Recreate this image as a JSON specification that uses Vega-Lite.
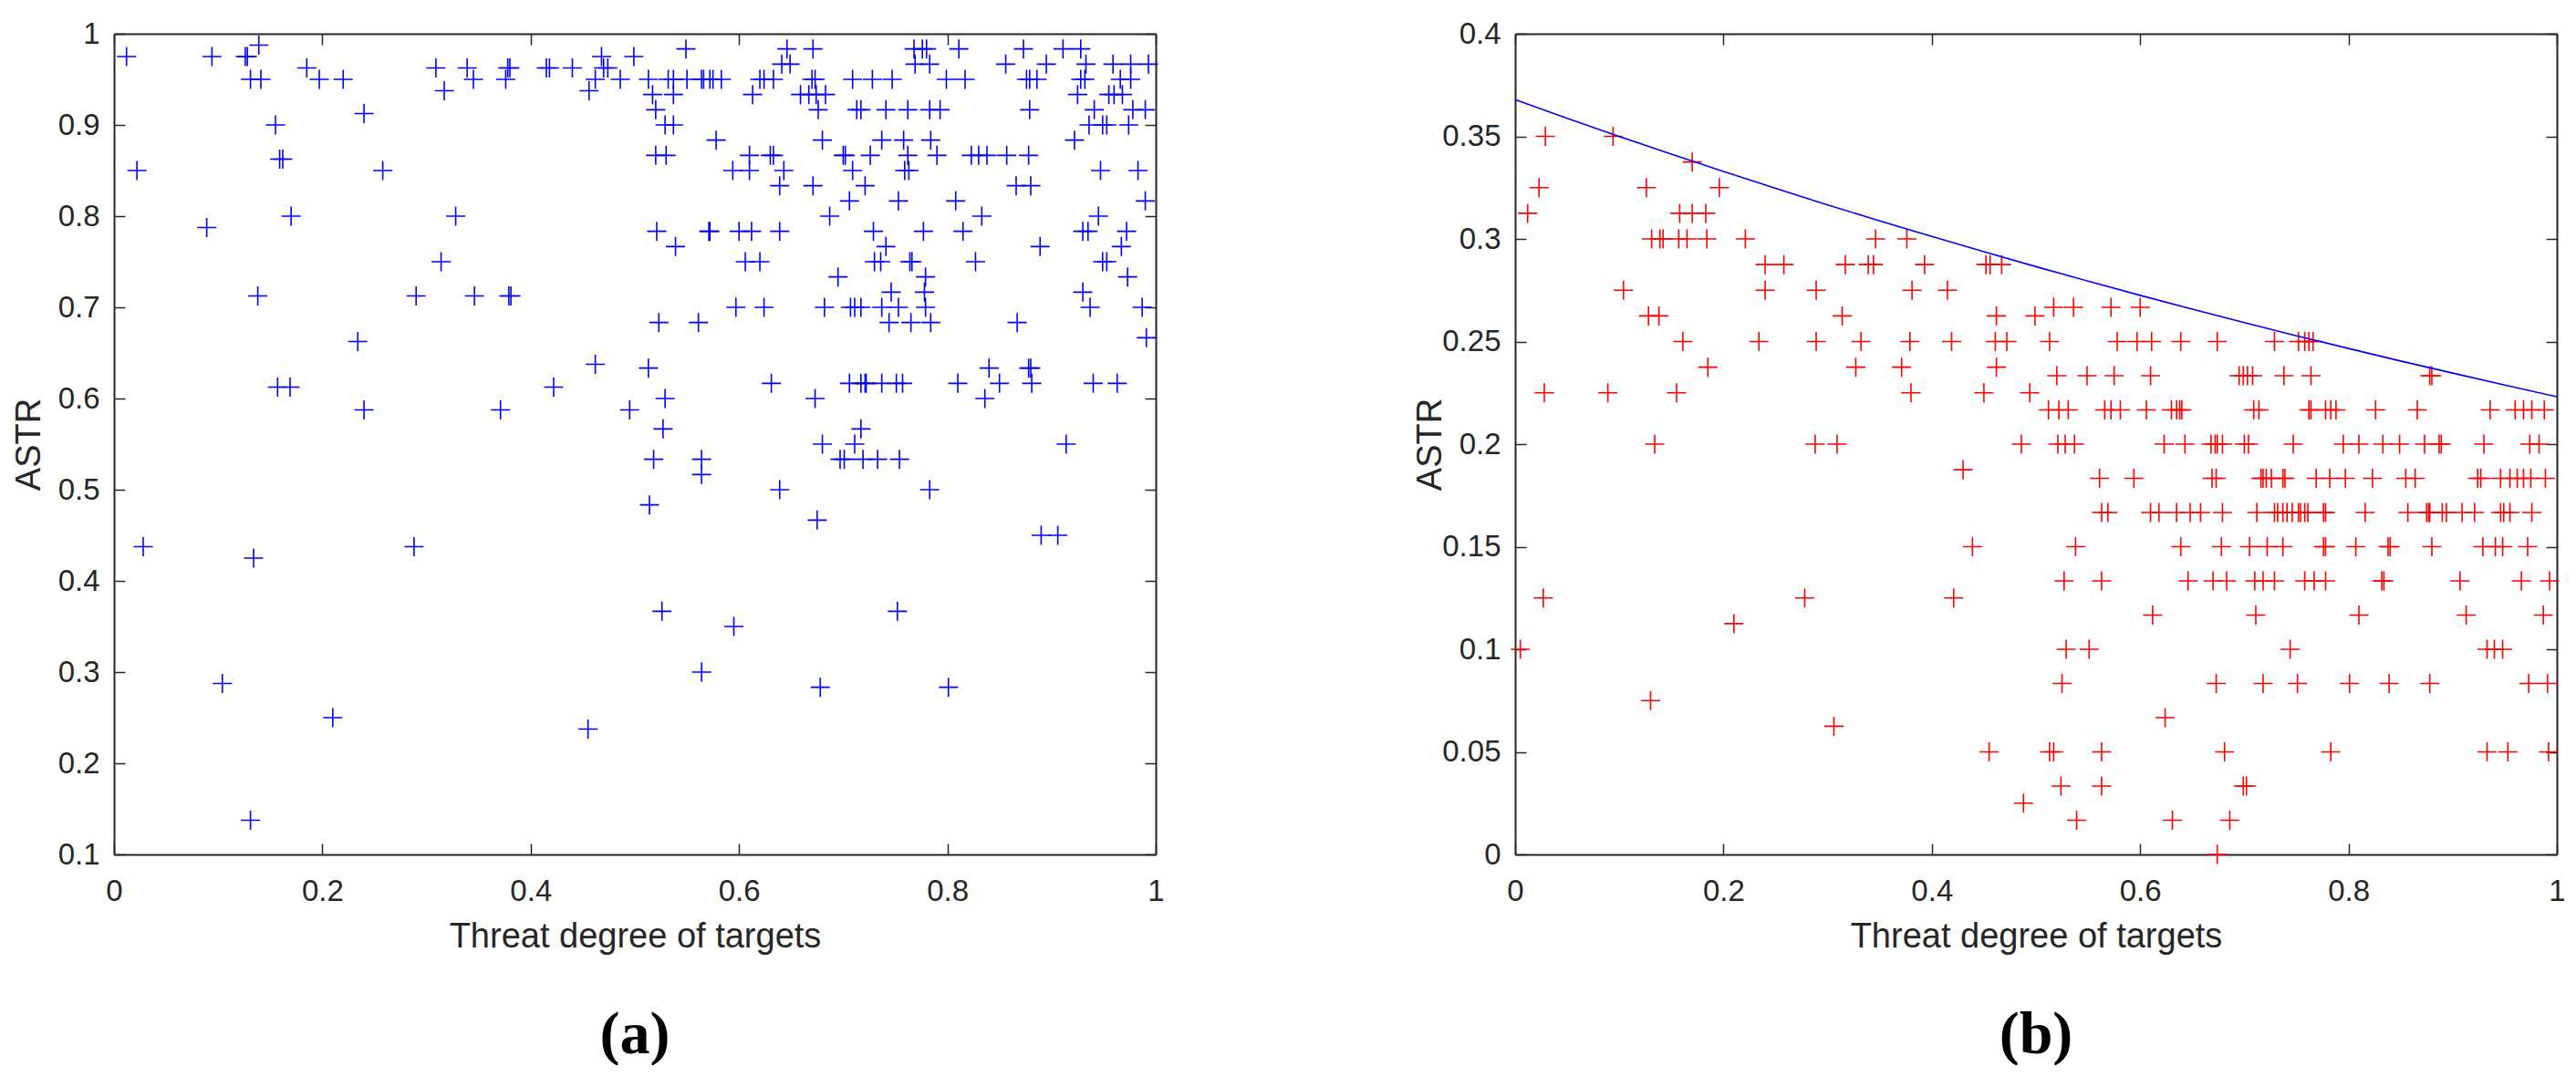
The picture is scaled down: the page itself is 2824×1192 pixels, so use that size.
{
"$schema": "https://vega.github.io/schema/vega-lite/v6.json",
"background": "white",
"padding": {"left": 13, "top": 21, "right": 0, "bottom": 0},
"spacing": 272,
"config": {
  "view": {"stroke": null},
  "axis": {"domainColor": "#262626", "domainWidth": 2, "tickColor": "#262626", "tickWidth": 1.5, "tickSize": -12,
    "labelColor": "#262626", "titleColor": "#262626", "labelFont": "Liberation Sans", "titleFont": "Liberation Sans",
    "labelFontSize": 33, "titleFontSize": 38, "titleFontWeight": "normal", "grid": false,
    "labelFlush": false, "labelOverlap": false, "format": "~g"},
  "axisX": {"labelPadding": 36},
  "axisY": {"labelPadding": 28},
  "title": {"font": "Liberation Serif", "fontSize": 66, "fontWeight": "bold", "color": "black", "orient": "bottom", "anchor": "middle", "offset": 57}
},
"datasets": {
"a": [
{"x":0.012,"y":0.975},{"x":0.094,"y":0.975},{"x":0.126,"y":0.975},{"x":0.128,"y":0.975},{"x":0.468,"y":0.975},{"x":0.499,"y":0.975},
{"x":0.139,"y":0.9875},
{"x":0.185,"y":0.9625},{"x":0.309,"y":0.9625},{"x":0.339,"y":0.9625},{"x":0.378,"y":0.9625},{"x":0.38,"y":0.9625},{"x":0.415,"y":0.9625},{"x":0.418,"y":0.9625},{"x":0.44,"y":0.9625},{"x":0.47,"y":0.9625},{"x":0.474,"y":0.9625},
{"x":0.131,"y":0.95},{"x":0.141,"y":0.95},{"x":0.197,"y":0.95},{"x":0.22,"y":0.95},{"x":0.345,"y":0.95},{"x":0.376,"y":0.95},{"x":0.462,"y":0.95},{"x":0.486,"y":0.95},{"x":0.513,"y":0.95},{"x":0.532,"y":0.95},{"x":0.537,"y":0.95},{"x":0.55,"y":0.95},{"x":0.564,"y":0.95},{"x":0.566,"y":0.95},{"x":0.572,"y":0.95},{"x":0.575,"y":0.95},{"x":0.583,"y":0.95},{"x":0.62,"y":0.95},{"x":0.624,"y":0.95},{"x":0.633,"y":0.95},{"x":0.67,"y":0.95},{"x":0.673,"y":0.95},{"x":0.709,"y":0.95},{"x":0.728,"y":0.95},{"x":0.747,"y":0.95},{"x":0.799,"y":0.95},{"x":0.817,"y":0.95},{"x":0.876,"y":0.95},{"x":0.879,"y":0.95},{"x":0.886,"y":0.95},{"x":0.928,"y":0.95},{"x":0.932,"y":0.95},{"x":0.966,"y":0.95},{"x":0.976,"y":0.95},
{"x":0.317,"y":0.9375},{"x":0.456,"y":0.9375},
{"x":0.24,"y":0.9125},
{"x":0.155,"y":0.9},{"x":0.529,"y":0.9},{"x":0.537,"y":0.9},{"x":0.936,"y":0.9},{"x":0.949,"y":0.9},{"x":0.953,"y":0.9},{"x":0.974,"y":0.9},
{"x":0.159,"y":0.8625},{"x":0.162,"y":0.8625},
{"x":0.022,"y":0.85},{"x":0.258,"y":0.85},{"x":0.594,"y":0.85},{"x":0.61,"y":0.85},{"x":0.643,"y":0.85},{"x":0.709,"y":0.85},{"x":0.759,"y":0.85},{"x":0.763,"y":0.85},{"x":0.947,"y":0.85},{"x":0.983,"y":0.85},
{"x":0.17,"y":0.8},{"x":0.328,"y":0.8},{"x":0.687,"y":0.8},{"x":0.833,"y":0.8},{"x":0.945,"y":0.8},
{"x":0.089,"y":0.7875},
{"x":0.314,"y":0.75},{"x":0.606,"y":0.75},{"x":0.62,"y":0.75},{"x":0.73,"y":0.75},{"x":0.736,"y":0.75},{"x":0.764,"y":0.75},{"x":0.766,"y":0.75},{"x":0.827,"y":0.75},{"x":0.949,"y":0.75},{"x":0.953,"y":0.75},
{"x":0.138,"y":0.7125},{"x":0.29,"y":0.7125},{"x":0.346,"y":0.7125},{"x":0.379,"y":0.7125},{"x":0.381,"y":0.7125},
{"x":0.234,"y":0.6625},
{"x":0.462,"y":0.6375},
{"x":0.157,"y":0.6125},{"x":0.169,"y":0.6125},{"x":0.422,"y":0.6125},
{"x":0.24,"y":0.5875},{"x":0.371,"y":0.5875},{"x":0.495,"y":0.5875},
{"x":0.028,"y":0.4375},{"x":0.288,"y":0.4375},
{"x":0.134,"y":0.425},
{"x":0.104,"y":0.2875},
{"x":0.21,"y":0.25},
{"x":0.455,"y":0.2375},
{"x":0.131,"y":0.1375},
{"x":0.549,"y":0.98333},{"x":0.646,"y":0.98333},{"x":0.671,"y":0.98333},{"x":0.768,"y":0.98333},{"x":0.776,"y":0.98333},{"x":0.78,"y":0.98333},{"x":0.811,"y":0.98333},{"x":0.873,"y":0.98333},{"x":0.911,"y":0.98333},{"x":0.928,"y":0.98333},
{"x":0.641,"y":0.96667},{"x":0.649,"y":0.96667},{"x":0.769,"y":0.96667},{"x":0.783,"y":0.96667},{"x":0.856,"y":0.96667},{"x":0.895,"y":0.96667},{"x":0.933,"y":0.96667},{"x":0.959,"y":0.96667},{"x":0.976,"y":0.96667},{"x":0.993,"y":0.96667},
{"x":0.517,"y":0.93333},{"x":0.537,"y":0.93333},{"x":0.613,"y":0.93333},{"x":0.659,"y":0.93333},{"x":0.667,"y":0.93333},{"x":0.674,"y":0.93333},{"x":0.683,"y":0.93333},{"x":0.925,"y":0.93333},{"x":0.955,"y":0.93333},{"x":0.96,"y":0.93333},{"x":0.968,"y":0.93333},
{"x":0.52,"y":0.91667},{"x":0.676,"y":0.91667},{"x":0.713,"y":0.91667},{"x":0.717,"y":0.91667},{"x":0.741,"y":0.91667},{"x":0.762,"y":0.91667},{"x":0.783,"y":0.91667},{"x":0.793,"y":0.91667},{"x":0.879,"y":0.91667},{"x":0.941,"y":0.91667},{"x":0.978,"y":0.91667},{"x":0.99,"y":0.91667},
{"x":0.578,"y":0.88333},{"x":0.68,"y":0.88333},{"x":0.737,"y":0.88333},{"x":0.758,"y":0.88333},{"x":0.784,"y":0.88333},{"x":0.922,"y":0.88333},
{"x":0.52,"y":0.86667},{"x":0.53,"y":0.86667},{"x":0.61,"y":0.86667},{"x":0.63,"y":0.86667},{"x":0.633,"y":0.86667},{"x":0.7,"y":0.86667},{"x":0.702,"y":0.86667},{"x":0.726,"y":0.86667},{"x":0.762,"y":0.86667},{"x":0.79,"y":0.86667},{"x":0.823,"y":0.86667},{"x":0.83,"y":0.86667},{"x":0.838,"y":0.86667},{"x":0.857,"y":0.86667},{"x":0.878,"y":0.86667},
{"x":0.639,"y":0.83333},{"x":0.671,"y":0.83333},{"x":0.721,"y":0.83333},{"x":0.866,"y":0.83333},{"x":0.88,"y":0.83333},
{"x":0.706,"y":0.81667},{"x":0.753,"y":0.81667},{"x":0.808,"y":0.81667},{"x":0.99,"y":0.81667},
{"x":0.521,"y":0.78333},{"x":0.571,"y":0.78333},{"x":0.572,"y":0.78333},{"x":0.6,"y":0.78333},{"x":0.612,"y":0.78333},{"x":0.639,"y":0.78333},{"x":0.729,"y":0.78333},{"x":0.777,"y":0.78333},{"x":0.815,"y":0.78333},{"x":0.93,"y":0.78333},{"x":0.935,"y":0.78333},{"x":0.972,"y":0.78333},
{"x":0.539,"y":0.76667},{"x":0.741,"y":0.76667},{"x":0.889,"y":0.76667},{"x":0.967,"y":0.76667},
{"x":0.695,"y":0.73333},{"x":0.779,"y":0.73333},{"x":0.973,"y":0.73333},
{"x":0.746,"y":0.71667},{"x":0.778,"y":0.71667},{"x":0.93,"y":0.71667},
{"x":0.597,"y":0.7},{"x":0.624,"y":0.7},{"x":0.682,"y":0.7},{"x":0.707,"y":0.7},{"x":0.711,"y":0.7},{"x":0.717,"y":0.7},{"x":0.737,"y":0.7},{"x":0.753,"y":0.7},{"x":0.779,"y":0.7},{"x":0.937,"y":0.7},{"x":0.987,"y":0.7},
{"x":0.523,"y":0.68333},{"x":0.561,"y":0.68333},{"x":0.744,"y":0.68333},{"x":0.765,"y":0.68333},{"x":0.784,"y":0.68333},{"x":0.867,"y":0.68333},
{"x":0.991,"y":0.66667},
{"x":0.513,"y":0.63333},{"x":0.84,"y":0.63333},{"x":0.878,"y":0.63333},{"x":0.88,"y":0.63333},
{"x":0.631,"y":0.61667},{"x":0.706,"y":0.61667},{"x":0.717,"y":0.61667},{"x":0.721,"y":0.61667},{"x":0.722,"y":0.61667},{"x":0.737,"y":0.61667},{"x":0.751,"y":0.61667},{"x":0.757,"y":0.61667},{"x":0.81,"y":0.61667},{"x":0.85,"y":0.61667},{"x":0.881,"y":0.61667},{"x":0.94,"y":0.61667},{"x":0.963,"y":0.61667},
{"x":0.529,"y":0.6},{"x":0.673,"y":0.6},{"x":0.836,"y":0.6},
{"x":0.527,"y":0.56667},{"x":0.717,"y":0.56667},
{"x":0.68,"y":0.55},{"x":0.711,"y":0.55},{"x":0.914,"y":0.55},
{"x":0.518,"y":0.53333},{"x":0.564,"y":0.53333},{"x":0.697,"y":0.53333},{"x":0.701,"y":0.53333},{"x":0.719,"y":0.53333},{"x":0.733,"y":0.53333},{"x":0.754,"y":0.53333},
{"x":0.564,"y":0.51667},
{"x":0.639,"y":0.5},{"x":0.783,"y":0.5},
{"x":0.514,"y":0.48333},
{"x":0.675,"y":0.46667},
{"x":0.89,"y":0.45},{"x":0.906,"y":0.45},
{"x":0.526,"y":0.36667},{"x":0.752,"y":0.36667},
{"x":0.595,"y":0.35},
{"x":0.564,"y":0.3},
{"x":0.678,"y":0.28333},{"x":0.801,"y":0.28333}
],
"b": [
{"x":0.029,"y":0.35},{"x":0.094,"y":0.35},
{"x":0.17,"y":0.3375},
{"x":0.023,"y":0.325},{"x":0.126,"y":0.325},{"x":0.196,"y":0.325},
{"x":0.012,"y":0.3125},{"x":0.158,"y":0.3125},{"x":0.17,"y":0.3125},{"x":0.183,"y":0.3125},
{"x":0.131,"y":0.3},{"x":0.139,"y":0.3},{"x":0.142,"y":0.3},{"x":0.157,"y":0.3},{"x":0.165,"y":0.3},{"x":0.184,"y":0.3},{"x":0.221,"y":0.3},{"x":0.346,"y":0.3},{"x":0.376,"y":0.3},
{"x":0.24,"y":0.2875},{"x":0.258,"y":0.2875},{"x":0.317,"y":0.2875},{"x":0.339,"y":0.2875},{"x":0.344,"y":0.2875},{"x":0.393,"y":0.2875},{"x":0.452,"y":0.2875},{"x":0.456,"y":0.2875},{"x":0.467,"y":0.2875},
{"x":0.104,"y":0.275},{"x":0.24,"y":0.275},{"x":0.289,"y":0.275},{"x":0.381,"y":0.275},{"x":0.415,"y":0.275},
{"x":0.517,"y":0.26667},{"x":0.536,"y":0.26667},{"x":0.572,"y":0.26667},{"x":0.6,"y":0.26667},
{"x":0.128,"y":0.2625},{"x":0.138,"y":0.2625},{"x":0.314,"y":0.2625},{"x":0.462,"y":0.2625},{"x":0.499,"y":0.2625},
{"x":0.161,"y":0.25},{"x":0.234,"y":0.25},{"x":0.289,"y":0.25},{"x":0.332,"y":0.25},{"x":0.379,"y":0.25},{"x":0.419,"y":0.25},{"x":0.461,"y":0.25},{"x":0.472,"y":0.25},{"x":0.513,"y":0.25},{"x":0.578,"y":0.25},{"x":0.597,"y":0.25},{"x":0.611,"y":0.25},{"x":0.639,"y":0.25},{"x":0.674,"y":0.25},{"x":0.729,"y":0.25},{"x":0.752,"y":0.25},{"x":0.758,"y":0.25},{"x":0.762,"y":0.25},{"x":0.766,"y":0.25},
{"x":0.185,"y":0.2375},{"x":0.327,"y":0.2375},{"x":0.371,"y":0.2375},{"x":0.462,"y":0.2375},
{"x":0.52,"y":0.23333},{"x":0.549,"y":0.23333},{"x":0.575,"y":0.23333},{"x":0.61,"y":0.23333},{"x":0.695,"y":0.23333},{"x":0.699,"y":0.23333},{"x":0.703,"y":0.23333},{"x":0.708,"y":0.23333},{"x":0.738,"y":0.23333},{"x":0.764,"y":0.23333},{"x":0.878,"y":0.23333},{"x":0.88,"y":0.23333},
{"x":0.028,"y":0.225},{"x":0.089,"y":0.225},{"x":0.155,"y":0.225},{"x":0.38,"y":0.225},{"x":0.45,"y":0.225},{"x":0.494,"y":0.225},
{"x":0.512,"y":0.21667},{"x":0.522,"y":0.21667},{"x":0.531,"y":0.21667},{"x":0.566,"y":0.21667},{"x":0.572,"y":0.21667},{"x":0.581,"y":0.21667},{"x":0.606,"y":0.21667},{"x":0.63,"y":0.21667},{"x":0.635,"y":0.21667},{"x":0.638,"y":0.21667},{"x":0.64,"y":0.21667},{"x":0.709,"y":0.21667},{"x":0.714,"y":0.21667},{"x":0.762,"y":0.21667},{"x":0.764,"y":0.21667},{"x":0.778,"y":0.21667},{"x":0.783,"y":0.21667},{"x":0.788,"y":0.21667},{"x":0.826,"y":0.21667},{"x":0.866,"y":0.21667},{"x":0.936,"y":0.21667},{"x":0.96,"y":0.21667},{"x":0.968,"y":0.21667},{"x":0.976,"y":0.21667},{"x":0.988,"y":0.21667},
{"x":0.134,"y":0.2},{"x":0.288,"y":0.2},{"x":0.309,"y":0.2},{"x":0.486,"y":0.2},{"x":0.521,"y":0.2},{"x":0.528,"y":0.2},{"x":0.537,"y":0.2},{"x":0.623,"y":0.2},{"x":0.643,"y":0.2},{"x":0.668,"y":0.2},{"x":0.672,"y":0.2},{"x":0.674,"y":0.2},{"x":0.679,"y":0.2},{"x":0.7,"y":0.2},{"x":0.704,"y":0.2},{"x":0.747,"y":0.2},{"x":0.795,"y":0.2},{"x":0.81,"y":0.2},{"x":0.833,"y":0.2},{"x":0.849,"y":0.2},{"x":0.873,"y":0.2},{"x":0.887,"y":0.2},{"x":0.889,"y":0.2},{"x":0.93,"y":0.2},{"x":0.974,"y":0.2},{"x":0.983,"y":0.2},
{"x":0.43,"y":0.1875},
{"x":0.561,"y":0.18333},{"x":0.594,"y":0.18333},{"x":0.669,"y":0.18333},{"x":0.673,"y":0.18333},{"x":0.716,"y":0.18333},{"x":0.718,"y":0.18333},{"x":0.721,"y":0.18333},{"x":0.726,"y":0.18333},{"x":0.737,"y":0.18333},{"x":0.739,"y":0.18333},{"x":0.769,"y":0.18333},{"x":0.782,"y":0.18333},{"x":0.797,"y":0.18333},{"x":0.823,"y":0.18333},{"x":0.855,"y":0.18333},{"x":0.864,"y":0.18333},{"x":0.924,"y":0.18333},{"x":0.927,"y":0.18333},{"x":0.946,"y":0.18333},{"x":0.955,"y":0.18333},{"x":0.962,"y":0.18333},{"x":0.968,"y":0.18333},{"x":0.975,"y":0.18333},{"x":0.989,"y":0.18333},
{"x":0.563,"y":0.16667},{"x":0.569,"y":0.16667},{"x":0.61,"y":0.16667},{"x":0.618,"y":0.16667},{"x":0.635,"y":0.16667},{"x":0.648,"y":0.16667},{"x":0.658,"y":0.16667},{"x":0.679,"y":0.16667},{"x":0.712,"y":0.16667},{"x":0.729,"y":0.16667},{"x":0.732,"y":0.16667},{"x":0.737,"y":0.16667},{"x":0.741,"y":0.16667},{"x":0.746,"y":0.16667},{"x":0.752,"y":0.16667},{"x":0.754,"y":0.16667},{"x":0.758,"y":0.16667},{"x":0.761,"y":0.16667},{"x":0.776,"y":0.16667},{"x":0.778,"y":0.16667},{"x":0.816,"y":0.16667},{"x":0.857,"y":0.16667},{"x":0.875,"y":0.16667},{"x":0.877,"y":0.16667},{"x":0.878,"y":0.16667},{"x":0.89,"y":0.16667},{"x":0.894,"y":0.16667},{"x":0.909,"y":0.16667},{"x":0.921,"y":0.16667},{"x":0.946,"y":0.16667},{"x":0.949,"y":0.16667},{"x":0.955,"y":0.16667},{"x":0.976,"y":0.16667},
{"x":0.439,"y":0.15},{"x":0.538,"y":0.15},{"x":0.639,"y":0.15},{"x":0.678,"y":0.15},{"x":0.705,"y":0.15},{"x":0.722,"y":0.15},{"x":0.737,"y":0.15},{"x":0.776,"y":0.15},{"x":0.778,"y":0.15},{"x":0.807,"y":0.15},{"x":0.838,"y":0.15},{"x":0.84,"y":0.15},{"x":0.88,"y":0.15},{"x":0.929,"y":0.15},{"x":0.941,"y":0.15},{"x":0.948,"y":0.15},{"x":0.972,"y":0.15},
{"x":0.527,"y":0.13333},{"x":0.563,"y":0.13333},{"x":0.646,"y":0.13333},{"x":0.67,"y":0.13333},{"x":0.683,"y":0.13333},{"x":0.71,"y":0.13333},{"x":0.718,"y":0.13333},{"x":0.729,"y":0.13333},{"x":0.758,"y":0.13333},{"x":0.767,"y":0.13333},{"x":0.778,"y":0.13333},{"x":0.832,"y":0.13333},{"x":0.834,"y":0.13333},{"x":0.907,"y":0.13333},{"x":0.966,"y":0.13333},{"x":0.993,"y":0.13333},
{"x":0.027,"y":0.125},{"x":0.278,"y":0.125},{"x":0.421,"y":0.125},
{"x":0.612,"y":0.11667},{"x":0.711,"y":0.11667},{"x":0.81,"y":0.11667},{"x":0.913,"y":0.11667},{"x":0.987,"y":0.11667},
{"x":0.21,"y":0.1125},
{"x":0.005,"y":0.1},{"x":0.529,"y":0.1},{"x":0.551,"y":0.1},{"x":0.744,"y":0.1},{"x":0.933,"y":0.1},{"x":0.94,"y":0.1},{"x":0.948,"y":0.1},
{"x":0.525,"y":0.08333},{"x":0.673,"y":0.08333},{"x":0.718,"y":0.08333},{"x":0.751,"y":0.08333},{"x":0.801,"y":0.08333},{"x":0.839,"y":0.08333},{"x":0.878,"y":0.08333},{"x":0.973,"y":0.08333},{"x":0.991,"y":0.08333},
{"x":0.13,"y":0.075},
{"x":0.624,"y":0.06667},
{"x":0.306,"y":0.0625},
{"x":0.455,"y":0.05},{"x":0.513,"y":0.05},{"x":0.517,"y":0.05},{"x":0.563,"y":0.05},{"x":0.681,"y":0.05},{"x":0.783,"y":0.05},{"x":0.933,"y":0.05},{"x":0.953,"y":0.05},{"x":0.992,"y":0.05},
{"x":0.524,"y":0.03333},{"x":0.563,"y":0.03333},{"x":0.699,"y":0.03333},{"x":0.702,"y":0.03333},
{"x":0.488,"y":0.025},
{"x":0.539,"y":0.01667},{"x":0.631,"y":0.01667},{"x":0.686,"y":0.01667},
{"x":0.674,"y":0}
],
"curve": [
{"x":0,"y":0.3679},{"x":0.05,"y":0.3588},{"x":0.1,"y":0.3499},{"x":0.15,"y":0.3413},{"x":0.2,"y":0.3329},{"x":0.25,"y":0.3247},{"x":0.3,"y":0.3166},{"x":0.35,"y":0.3088},{"x":0.4,"y":0.3012},{"x":0.45,"y":0.2938},{"x":0.5,"y":0.2865},{"x":0.55,"y":0.2794},{"x":0.6,"y":0.2725},{"x":0.65,"y":0.2658},{"x":0.7,"y":0.2592},{"x":0.75,"y":0.2528},{"x":0.8,"y":0.2466},{"x":0.85,"y":0.2405},{"x":0.9,"y":0.2346},{"x":0.95,"y":0.2288},{"x":1,"y":0.2231}
]
},
"hconcat": [
{
  "width": 1142, "height": 900,
  "title": {"text": "(a)"},
  "resolve": {"axis": {"x": "independent", "y": "independent"}},
  "layer": [
    {"data": {"name": "a"},
     "mark": {"type": "point", "shape": "M-1,0L1,0M0,-1L0,1", "filled": false, "size": 441, "strokeWidth": 1.6, "color": "#0000FF", "opacity": 1},
     "encoding": {
       "x": {"field": "x", "type": "quantitative", "scale": {"domain": [0, 1], "nice": false, "zero": false},
             "axis": {"orient": "bottom", "values": [0, 0.2, 0.4, 0.6, 0.8, 1], "title": "Threat degree of targets", "titlePadding": 14}},
       "y": {"field": "y", "type": "quantitative", "scale": {"domain": [0.1, 1], "nice": false, "zero": false},
             "axis": {"orient": "left", "values": [0.1, 0.2, 0.3, 0.4, 0.5, 0.6, 0.7, 0.8, 0.9, 1], "title": "ASTR", "titleX": -74}}
     }},
    {"data": {"name": "a"},
     "mark": {"type": "point", "opacity": 0},
     "encoding": {
       "x": {"field": "x", "type": "quantitative", "axis": {"orient": "top", "labels": false, "title": null, "values": [0, 0.2, 0.4, 0.6, 0.8, 1]}},
       "y": {"field": "y", "type": "quantitative", "axis": {"orient": "right", "labels": false, "title": null, "values": [0.1, 0.2, 0.3, 0.4, 0.5, 0.6, 0.7, 0.8, 0.9, 1]}}
     }}
  ]
},
{
  "width": 1142, "height": 900,
  "title": {"text": "(b)"},
  "resolve": {"axis": {"x": "independent", "y": "independent"}},
  "layer": [
    {"data": {"name": "b"},
     "mark": {"type": "point", "shape": "M-1,0L1,0M0,-1L0,1", "filled": false, "size": 441, "strokeWidth": 1.6, "color": "#FF0000", "opacity": 1},
     "encoding": {
       "x": {"field": "x", "type": "quantitative", "scale": {"domain": [0, 1], "nice": false, "zero": false},
             "axis": {"orient": "bottom", "values": [0, 0.2, 0.4, 0.6, 0.8, 1], "title": "Threat degree of targets", "titlePadding": 14}},
       "y": {"field": "y", "type": "quantitative", "scale": {"domain": [0, 0.4], "nice": false, "zero": false},
             "axis": {"orient": "left", "values": [0, 0.05, 0.1, 0.15, 0.2, 0.25, 0.3, 0.35, 0.4], "title": "ASTR", "titleX": -74}}
     }},
    {"data": {"name": "curve"},
     "mark": {"type": "line", "color": "#0000FF", "strokeWidth": 1.6},
     "encoding": {
       "x": {"field": "x", "type": "quantitative", "axis": null},
       "y": {"field": "y", "type": "quantitative", "axis": null}
     }},
    {"data": {"name": "b"},
     "mark": {"type": "point", "opacity": 0},
     "encoding": {
       "x": {"field": "x", "type": "quantitative", "axis": {"orient": "top", "labels": false, "title": null, "values": [0, 0.2, 0.4, 0.6, 0.8, 1]}},
       "y": {"field": "y", "type": "quantitative", "axis": {"orient": "right", "labels": false, "title": null, "values": [0, 0.05, 0.1, 0.15, 0.2, 0.25, 0.3, 0.35, 0.4]}}
     }}
  ]
}
]
}
